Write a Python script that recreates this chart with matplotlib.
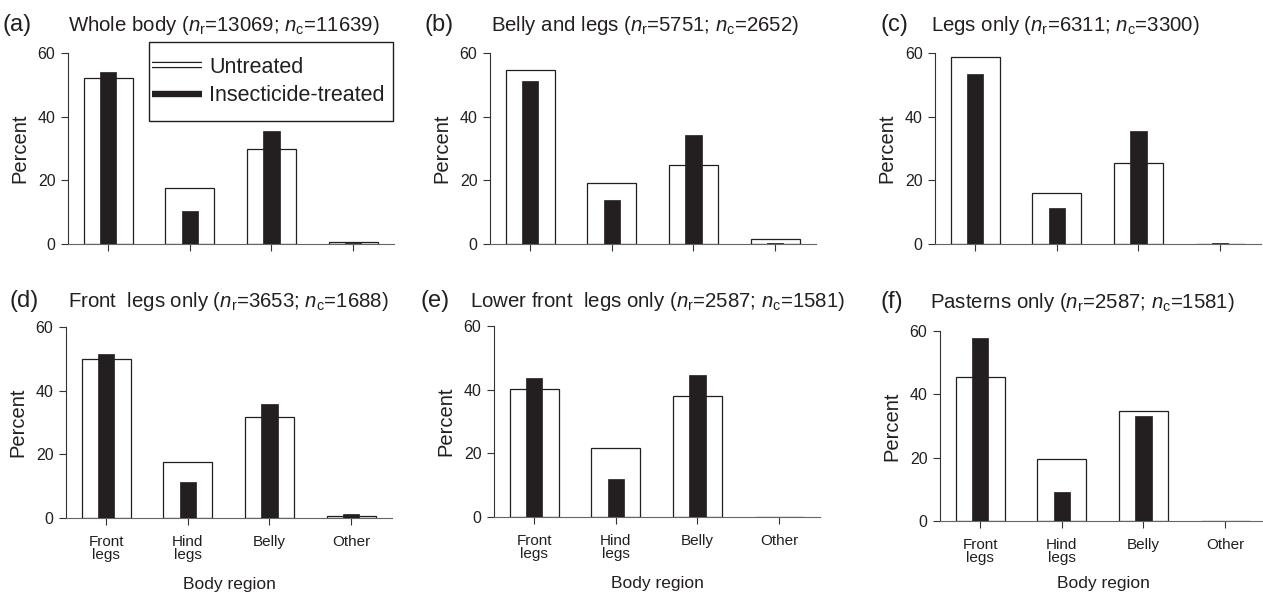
import matplotlib
matplotlib.use("Agg")
from matplotlib import pyplot as plt
from matplotlib.lines import Line2D
from matplotlib.patches import Rectangle
import matplotlib.patheffects as pe
import numpy as np

plt.rcParams['font.family'] = ['Liberation Sans', 'DejaVu Sans']
plt.rcParams['mathtext.fontset'] = 'custom'
plt.rcParams['mathtext.rm'] = 'Liberation Sans'
plt.rcParams['mathtext.it'] = 'Liberation Sans:italic'

categories = ['Front\nlegs', 'Hind\nlegs', 'Belly', 'Other']

# percent per body region: untreated / insecticide-treated
untreated_a = [52.3, 17.7, 29.8, 0.5]
treated_a = [54.0, 10.4, 35.6, 0.3]
untreated_b = [54.7, 19.2, 24.7, 1.6]
treated_b = [51.3, 13.9, 34.3, 0.3]
untreated_c = [58.6, 16.0, 25.4, 0.0]
treated_c = [53.3, 11.2, 35.5, 0.3]
untreated_d = [49.8, 17.7, 31.8, 0.5]
treated_d = [51.6, 11.2, 35.7, 1.4]
untreated_e = [40.3, 21.8, 37.9, 0.0]
treated_e = [43.7, 11.9, 44.7, 0.0]
untreated_f = [45.5, 19.5, 34.7, 0.1]
treated_f = [57.7, 9.1, 33.3, 0.1]

panel_labels = ['(a)', '(b)', '(c)', '(d)', '(e)', '(f)']
titles = [
    r'Whole body ($n_{\mathrm{r}}$=13069; $n_{\mathrm{c}}$=11639)',
    r'Belly and legs ($n_{\mathrm{r}}$=5751; $n_{\mathrm{c}}$=2652)',
    r'Legs only ($n_{\mathrm{r}}$=6311; $n_{\mathrm{c}}$=3300)',
    r'Front  legs only ($n_{\mathrm{r}}$=3653; $n_{\mathrm{c}}$=1688)',
    r'Lower front  legs only ($n_{\mathrm{r}}$=2587; $n_{\mathrm{c}}$=1581)',
    r'Pasterns only ($n_{\mathrm{r}}$=2587; $n_{\mathrm{c}}$=1581)',
]
untreated_all = [untreated_a, untreated_b, untreated_c, untreated_d, untreated_e, untreated_f]
treated_all = [treated_a, treated_b, treated_c, treated_d, treated_e, treated_f]

W, H = 1263, 594
fig = plt.figure(figsize=(W / 100, H / 100), dpi=100)

# axes layout in pixels: left spine x, top y, bottom y
boxes = [(68, 53, 244), (490, 53, 244), (935, 53, 244),
         (66, 327, 518), (494, 326, 517), (940, 331, 521)]
label_pos = [(3, 31), (425, 31), (880, 31), (10, 307), (421, 307), (880, 308)]
title_pos = [(68, 31), (491, 31), (931, 31), (68, 307), (470, 307), (930, 308)]
xlabel_pad = [None, None, None, 10.5, 10.5, 7.5]
ax_w = 326

dark = '#231f20'
x = np.arange(len(categories))

for i in range(6):
    lx, ty, by = boxes[i]
    ax = fig.add_axes([lx / W, 1 - by / H, ax_w / W, (by - ty) / H])
    ax.bar(x, untreated_all[i], width=0.6, color='white', edgecolor=dark, linewidth=0.9, zorder=2)
    ax.bar(x, treated_all[i], width=0.2, color=dark, edgecolor=dark, linewidth=0.5, zorder=3)
    ax.set_xlim(-0.49, 3.5)
    ax.set_ylim(0, 60)
    ax.set_yticks([0, 20, 40, 60])
    ax.set_xticks(x)
    ax.spines['top'].set_visible(False)
    ax.spines['right'].set_visible(False)
    ax.spines['left'].set_color('#333333')
    ax.spines['bottom'].set_color('#666666')
    ax.tick_params(axis='y', length=5, pad=4, labelsize=11.5, colors='#333333', labelcolor=dark)
    ax.tick_params(axis='x', length=5, pad=7, labelsize=11, colors='#333333', labelcolor=dark)
    ax.set_ylabel('Percent', fontsize=14.5, color=dark, labelpad=6)
    if i >= 3:
        ax.set_xticklabels(categories, linespacing=0.95)
        ax.set_xlabel('Body region', fontsize=12.5, color=dark, labelpad=xlabel_pad[i])
    else:
        ax.set_xticklabels([])
    px, py = label_pos[i]
    fig.text(px / W, 1 - py / H, panel_labels[i], fontsize=17, color=dark, va='baseline', ha='left')
    tx, tyy = title_pos[i]
    fig.text(tx / W, 1 - tyy / H, titles[i], fontsize=14.7, color=dark, va='baseline', ha='left')

# legend box drawn separately so its padding matches the original
lb_x0, lb_y0, lb_x1, lb_y1 = 149, 42, 393, 121
fig.patches.append(Rectangle((lb_x0 / W, 1 - lb_y1 / H), (lb_x1 - lb_x0) / W, (lb_y1 - lb_y0) / H,
                             transform=fig.transFigure, facecolor='white', edgecolor=dark,
                             linewidth=1.0, zorder=5))

h_untreated = Line2D([], [], color='white', linewidth=2.8, solid_capstyle='butt',
                     path_effects=[pe.Stroke(linewidth=4.6, foreground=dark, capstyle='butt'), pe.Normal()])
h_treated = Line2D([], [], color=dark, linewidth=4.6, solid_capstyle='butt')
leg = fig.legend([h_untreated, h_treated], ['Untreated', 'Insecticide-treated'],
                 loc='center left', bbox_to_anchor=((lb_x0 + 3) / W, 1 - (lb_y0 + lb_y1) / 2 / H),
                 bbox_transform=fig.transFigure, borderaxespad=0, borderpad=0, frameon=False,
                 fontsize=15.5, handlelength=2.3, handletextpad=0.35, labelspacing=0.36)
leg.set_zorder(6)
for t in leg.get_texts():
    t.set_color(dark)

fig.savefig('out.png', dpi=100)
